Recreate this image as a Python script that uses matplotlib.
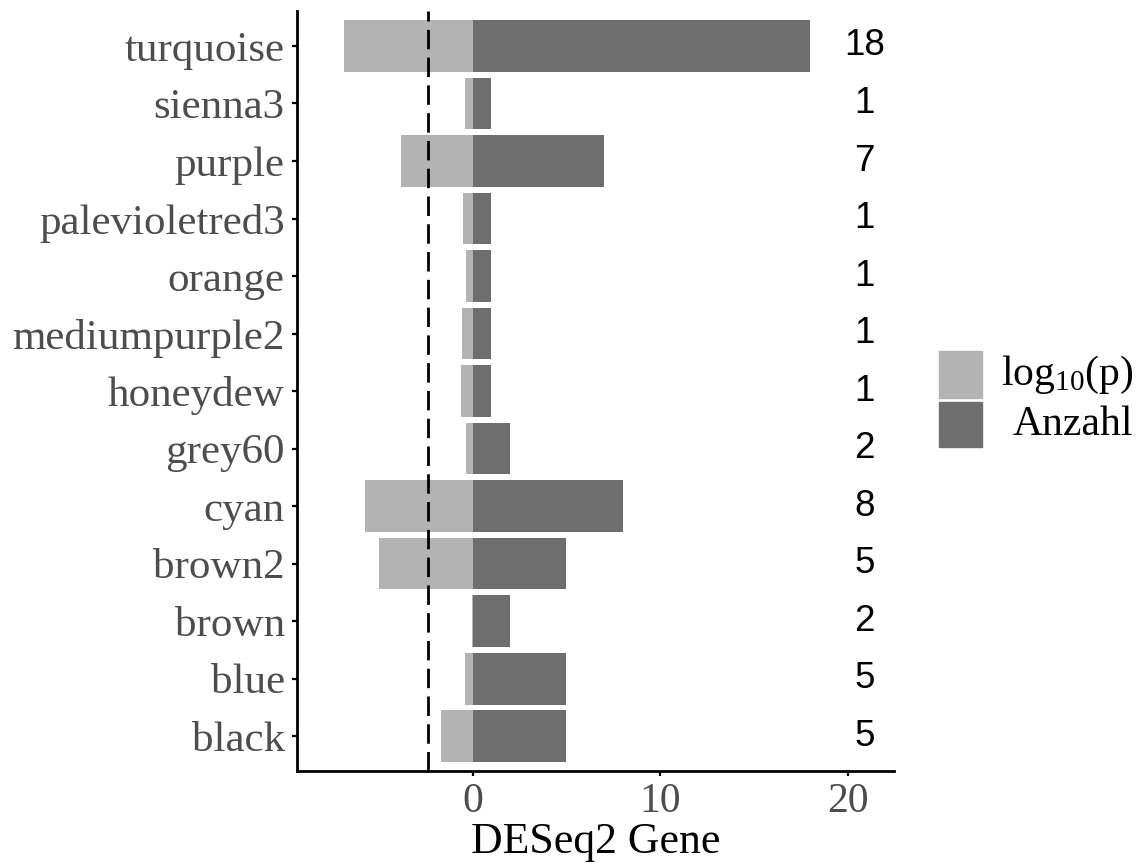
import matplotlib
matplotlib.use("Agg")
import matplotlib.pyplot as plt
from matplotlib.patches import Rectangle
import numpy as np

# module names, bottom to top as on the y axis
modules = ["black", "blue", "brown", "brown2", "cyan", "grey60", "honeydew",
           "mediumpurple2", "orange", "palevioletred3", "purple", "sienna3",
           "turquoise"]
log10_p = [-1.70, -0.43, -0.06, -5.02, -5.76, -0.34, -0.64,
           -0.58, -0.37, -0.50, -3.83, -0.41, -6.88]
anzahl = [5, 5, 2, 5, 8, 2, 1, 1, 1, 1, 7, 1, 18]
threshold = -2.4
label_x = 20.9

light = "#B3B3B3"
dark = "#6E6E6E"
tick_grey = "#4D4D4D"

plt.rcParams['mathtext.fontset'] = 'custom'
plt.rcParams['mathtext.rm'] = 'Liberation Serif'
plt.rcParams['mathtext.it'] = 'Liberation Serif:italic'

fig = plt.figure(figsize=(11.42, 8.63), dpi=100)
ax = fig.add_axes([0.2598, 0.1070, 0.7828 - 0.2598, 0.9867 - 0.1070])

y = np.arange(1, len(modules) + 1)
ax.barh(y, log10_p, height=0.9, color=light, zorder=2)
ax.barh(y, anzahl, height=0.9, color=dark, zorder=3)
ax.axvline(threshold, color="black", lw=2.0, dashes=(7, 3), zorder=4)

for yi, n in zip(y, anzahl):
    ax.text(label_x, yi, str(n), ha="center", va="center",
            fontsize=26.5, family="Liberation Sans", color="black")

ax.set_xlim(-9.39, 22.47)
ax.set_ylim(0.4, len(modules) + 0.6)
ax.set_xticks([0, 10, 20])
ax.set_yticks(y)
ax.set_yticklabels(modules)

for s in ["top", "right"]:
    ax.spines[s].set_visible(False)
for s in ["left", "bottom"]:
    ax.spines[s].set_linewidth(2.0)

ax.tick_params(axis="both", length=3.6, width=1.6, color="black",
               labelcolor=tick_grey, pad=5)
for lab in ax.get_xticklabels():
    lab.set_family("Liberation Serif")
    lab.set_fontsize(30)
for lab in ax.get_yticklabels():
    lab.set_family("Liberation Serif")
    lab.set_fontsize(31)

ax.set_xlabel("DESeq2 Gene", fontsize=31.5, family="Liberation Serif",
              color="black", labelpad=1)

# legend on the right
W, H = 1142.0, 863.0
keys = [(light, r"$\mathregular{log_{10}(p)}$", 351, 398),
        (dark, "Anzahl", 402, 447)]
for col, txt, top, bot in keys:
    fig.patches.append(Rectangle((939 / W, 1 - bot / H), 43 / W, (bot - top) / H,
                                 transform=fig.transFigure, color=col))
    fig.text(1133 / W, 1 - (top + bot) / 2 / H, txt, ha="right", va="center",
             fontsize=30, family="Liberation Serif", color="black")

fig.savefig("out.png", dpi=100)
